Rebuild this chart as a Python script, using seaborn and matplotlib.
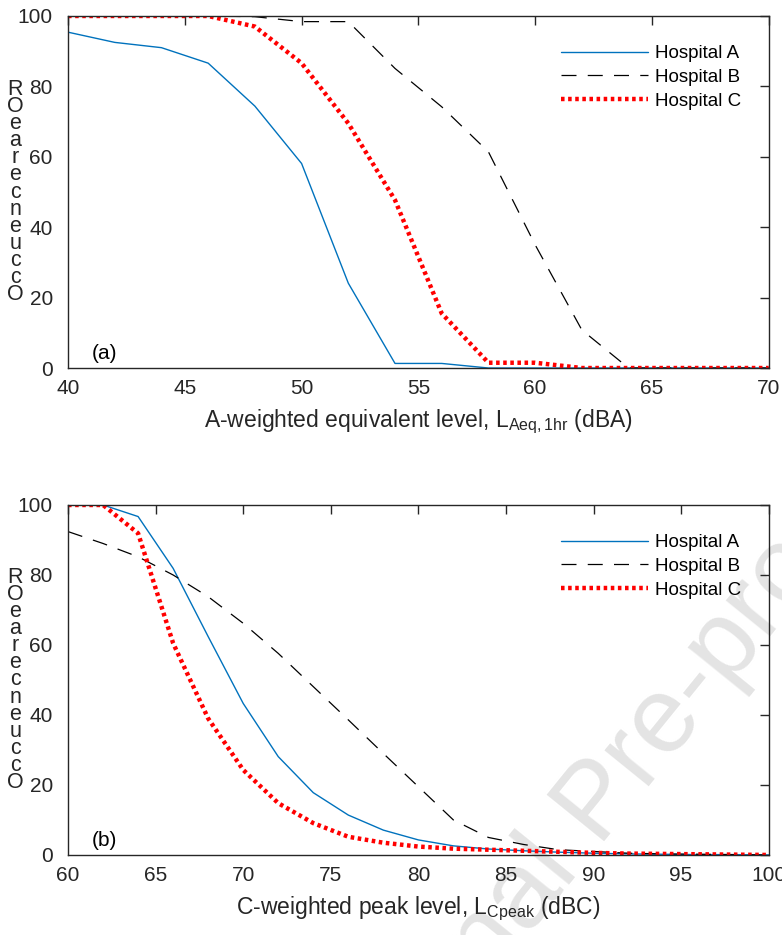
import numpy as np
import pandas as pd
import matplotlib
matplotlib.use('Agg')
import matplotlib.pyplot as plt
import seaborn as sns

# 面板 (a): A 计权等效声级
laeq = [40, 42, 44, 46, 48, 50, 52, 54, 56, 58, 60, 62, 64, 66, 68, 70]
laeq_a = [95.4, 92.5, 91.0, 86.6, 74.4, 58.1, 24.1, 1.3, 1.3, 0, 0, 0, 0, 0, 0, 0]
laeq_b = [100, 100, 100, 100, 99.8, 98.4, 98.4, 85.1, 74.2, 61.4, 35.0, 10.8, 0, 0, 0, 0]
laeq_c = [100, 100, 100, 100, 97.0, 86.6, 69.5, 47.7, 15.5, 1.5, 1.5, 0, 0, 0, 0, 0]

# 面板 (b): C 计权峰值声级
lcpk = [60, 62, 64, 66, 68, 70, 72, 74, 76, 78, 80, 82, 84, 86, 88, 90, 92, 94, 96, 98, 100]
lcpk_a = [100, 100, 96.7, 81.9, 62.4, 43.3, 28.1, 17.8, 11.4, 7.1, 4.3, 2.6, 1.7, 1.2, 0.8, 0.5, 0.3, 0.2, 0.1, 0.1, 0]
lcpk_b = [92.4, 89.0, 85.2, 80.0, 73.8, 66.2, 57.6, 48.1, 38.6, 29.0, 19.5, 10.0, 5.0, 3.0, 1.5, 1.0, 0.5, 0.3, 0.2, 0.1, 0]
lcpk_c = [100, 100, 91.9, 60.5, 39.0, 24.3, 14.8, 9.1, 5.2, 3.5, 2.4, 1.8, 1.5, 1.2, 0.9, 0.6, 0.4, 0.3, 0.2, 0.1, 0]

hospitals = ['Hospital A', 'Hospital B', 'Hospital C']
ylabel_chars = ['R', 'O', 'e', 'a', 'r', 'e', 'c', 'n', 'e', 'u', 'c', 'c', 'O']

sns.set_style('white')
plt.rcParams['font.family'] = ['Liberation Sans', 'DejaVu Sans']
plt.rcParams['mathtext.fontset'] = 'custom'
plt.rcParams['mathtext.rm'] = 'Liberation Sans'
plt.rcParams['mathtext.it'] = 'Liberation Sans'

styles = {
    'Hospital A': dict(color='#0072BD', linestyle='-', linewidth=1.0),
    'Hospital B': dict(color='black', linestyle=(0, (12, 9)), linewidth=0.9),
    'Hospital C': dict(color='#FF0000', linestyle=(0, (0.8, 0.8)), linewidth=3.2),
}

fig = plt.figure(figsize=(7.82, 9.35), dpi=100)
ax1 = fig.add_axes([0.087, 0.6064, 0.896, 0.3765])
ax2 = fig.add_axes([0.087, 0.0856, 0.896, 0.3743])

# 水印
fig.text(0.765, 0.14, 'Journal Pre-proof', rotation=51, fontsize=78, color='#e4e4e4',
         ha='center', va='center', zorder=-1)


def draw_panel(ax, x, series, xlim, xticks, xlabel, tag):
    for name, y in zip(hospitals, series):
        df = pd.DataFrame({'x': x, 'y': y})
        sns.lineplot(data=df, x='x', y='y', ax=ax, label=name, **styles[name])
    ax.set_facecolor('none')
    ax.set_xlim(*xlim)
    ax.set_ylim(0, 100)
    ax.set_xticks(xticks)
    ax.set_yticks([0, 20, 40, 60, 80, 100])
    ax.tick_params(direction='in', length=6.5, width=1.0, top=True, right=True,
                   labelsize=15, colors='#262626')
    ax.tick_params(axis='y', pad=11)
    ax.tick_params(axis='x', pad=8)
    for s in ax.spines.values():
        s.set_color('#262626')
        s.set_linewidth(1.0)
    ax.set_xlabel(xlabel, fontsize=16.5, color='#262626', labelpad=7)
    ax.set_ylabel('')
    ax.text(-0.075, 0.5, '\n'.join(ylabel_chars), transform=ax.transAxes, fontsize=15.5,
            color='#262626', ha='center', va='center', linespacing=0.76)
    ax.text(0.034, 0.025, tag, transform=ax.transAxes, fontsize=15, color='black')
    leg = ax.legend(loc='upper right', frameon=False, fontsize=13.5, handlelength=4.6,
                    handletextpad=0.4, labelspacing=0.35, bbox_to_anchor=(0.985, 0.965))
    for t in leg.get_texts():
        t.set_color('black')


draw_panel(ax1, laeq, [laeq_a, laeq_b, laeq_c], (40, 70), range(40, 71, 5),
           'A-weighted equivalent level, L$_{\\mathregular{Aeq,1hr}}$ (dBA)', '(a)')
draw_panel(ax2, lcpk, [lcpk_a, lcpk_b, lcpk_c], (60, 100), range(60, 101, 5),
           'C-weighted peak level, L$_{\\mathregular{Cpeak}}$ (dBC)', '(b)')

fig.savefig('out.png', dpi=100)
